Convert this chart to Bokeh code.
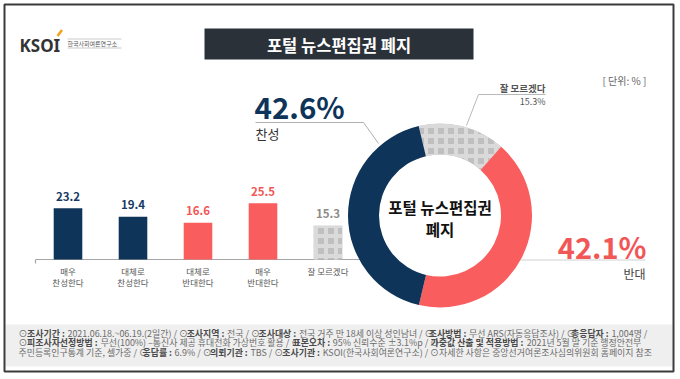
import math
from bokeh.plotting import figure
from bokeh.models import Range1d, ColumnDataSource
from bokeh.core.properties import value
from bokeh.embed import file_html
from bokeh.resources import INLINE

FONT = "Noto Sans CJK KR"

# ---------------- data ----------------
CAT_LINE1 = ["매우", "대체로", "대체로", "매우", "잘 모르겠다"]
CAT_LINE2 = ["찬성한다", "찬성한다", "반대한다", "반대한다", ""]
BAR_VALUES = [23.2, 19.4, 16.6, 25.5, 15.3]
PIE_LABELS = ["잘 모르겠다", "반대", "찬성"]
PIE_VALUES = [15.3, 42.1, 42.6]
TITLE = "포털 뉴스편집권 폐지"
CENTER_LINES = ["포털 뉴스편집권", "폐지"]
UNIT = "[ 단위: % ]"
# footer lines, bold parts between ** **
FOOTER = [
    "⊙**조사기간 :** 2021.06.18.~06.19.(2일간)  / ⊙**조사지역 :** 전국 / ⊙**조사대상 :** 전국 거주 만 18세 이상 성인남녀 / ⊙**조사방법 :** 무선 ARS(자동응답조사) / ⊙**총응답자 :** 1,004명 /",
    "⊙**피조사자선정방법 :** 무선(100%) –통신사 제공 휴대전화 가상번호 활용 / ⊙**표본오차 :** 95% 신뢰수준 ±3.1%p / ⊙**가중값 산출 및 적용방법 :** 2021년 5월 말 기준 행정안전부",
    "주민등록인구통계 기준, 셀가중 / ⊙**응답률 :** 6.9% / ⊙**의뢰기관 :** TBS / ⊙**조사기관 :** KSOI(한국사회여론연구소) / ⊙자세한 사항은 중앙선거여론조사심의위원회 홈페이지 참조",
]
FOOT_Y = [332.5, 342, 351.5]

# ---------------- style ----------------
NAVY = "#0f3459"
RED = "#fa5d5d"
GRAY = "#bfbfbf"
BAR_COLORS = [NAVY, NAVY, RED, RED, GRAY]
LABEL_COLORS = ["#173a63", "#173a63", "#f25757", "#f25757", "#8c8c8c"]
BAR_HATCH = ["blank", "blank", "blank", "blank", "cross"]
PIE_COLORS = [GRAY, RED, NAVY]
PIE_HATCH = ["cross", "blank", "blank"]

W, H = 680, 379
OX, OY = 0, 0
REF_H = 379


def Y(r):
    return REF_H - r


p = figure(width=W, height=H, x_range=Range1d(OX, OX + W),
           y_range=Range1d(Y(OY + H), Y(OY)),
           output_backend="svg", toolbar_location=None,
           x_axis_location=None, y_axis_location=None, min_border=0)
p.grid.visible = False
p.outline_line_color = None
p.background_fill_color = "white"
p.border_fill_color = "white"

# bar chart scales
BAR_X0, BAR_DX = 67.5, 65.0
BASE_Y, PPU = 259.0, 2.21
p.extra_x_ranges = {"idx": Range1d((OX - BAR_X0) / BAR_DX, (OX + W - BAR_X0) / BAR_DX)}
p.extra_y_ranges = {"pct": Range1d((Y(OY + H) - Y(BASE_Y)) / PPU, (Y(OY) - Y(BASE_Y)) / PPU)}

# footer band
p.quad(left=5, right=672, top=Y(324), bottom=Y(366), fill_color="#efefef", line_color=None)

# frame
p.quad(left=4, right=673, top=Y(4), bottom=Y(371), fill_color=None,
       line_color="#3b3b3b", line_width=2)

# logo
p.text(x=[19], y=[Y(45)], text=["KSOI"], text_font=value("Noto Sans"), text_font_style="bold",
       text_font_size="17px", text_color="#333333", text_align="left", text_baseline="middle")
p.line(x=[57, 61.5], y=[Y(35.5), Y(29.5)], line_color="#f5a11c", line_width=2.5)
p.line(x=[67, 121], y=[Y(38.5), Y(38.5)], line_color="#bdbdbd", line_width=0.8)
p.line(x=[67, 121], y=[Y(47.5), Y(47.5)], line_color="#bdbdbd", line_width=0.8)
p.text(x=[67], y=[Y(43)], text=["한국사회여론연구소"], text_font=value(FONT),
       text_font_size="6px", text_color="#555555", text_align="left", text_baseline="middle")

# title box
p.quad(left=204, right=473, top=Y(28), bottom=Y(59), fill_color="#2b3139", line_color=None)
p.text(x=[338.5], y=[Y(44)], text=[TITLE], text_font=value(FONT), text_font_style="bold",
       text_font_size="16.5px", text_color="white", text_align="center", text_baseline="middle")

# unit
p.text(x=[602], y=[Y(80)], text=[UNIT], text_font=value(FONT), text_font_size="10px",
       text_color="#666666", text_align="left", text_baseline="middle")

# ---------------- bars ----------------
idx = list(range(len(BAR_VALUES)))
p.line(x=[-0.5, 4.5], y=[0, 0], x_range_name="idx", y_range_name="pct",
       line_color="#a6a6a6", line_width=1.2)
p.line(x=[-0.5, -0.5], y=[0, -4 / PPU], x_range_name="idx", y_range_name="pct",
       line_color="#a6a6a6", line_width=1.2)

bsrc = ColumnDataSource(dict(x=idx, top=BAR_VALUES, color=BAR_COLORS, hatch=BAR_HATCH,
                             lab=[f"{v:.1f}" for v in BAR_VALUES],
                             ly=[v + 12 / PPU for v in BAR_VALUES], lc=LABEL_COLORS,
                             c1=CAT_LINE1, c2=CAT_LINE2,
                             y1=[-11 / PPU] * 5, y2=[-22 / PPU] * 5))
p.vbar(x="x", top="top", bottom=0, width=0.44, source=bsrc, x_range_name="idx",
       y_range_name="pct", fill_color="color", line_color=None,
       hatch_pattern="hatch", hatch_color="#dadada", hatch_scale=10, hatch_weight=4)
p.text(x="x", y="ly", text="lab", source=bsrc, x_range_name="idx", y_range_name="pct",
       text_font=value(FONT), text_font_style="bold", text_font_size="11.5px",
       text_color="lc", text_align="center", text_baseline="middle")
p.text(x="x", y="y1", text="c1", source=bsrc, x_range_name="idx", y_range_name="pct",
       text_font=value(FONT), text_font_size="8.5px", text_color="#555555",
       text_align="center", text_baseline="middle")
p.text(x="x", y="y2", text="c2", source=bsrc, x_range_name="idx", y_range_name="pct",
       text_font=value(FONT), text_font_size="8.5px", text_color="#555555",
       text_align="center", text_baseline="middle")

# ---------------- leader lines & big labels ----------------
p.line(x=[255, 363, 378], y=[Y(122), Y(122), Y(143)], line_color="#b0b0b0", line_width=1)
p.line(x=[520, 645], y=[Y(259.5), Y(259.5)], line_color="#d0d0d0", line_width=1)
p.line(x=[545, 478, 466], y=[Y(94), Y(94), Y(125)], line_color="#b8b8b8", line_width=1)

total = sum(PIE_VALUES)
pct_of = dict(zip(PIE_LABELS, PIE_VALUES))
p.text(x=[254], y=[Y(105)], text=[f"{pct_of['찬성']:.1f}%"], text_font=value(FONT),
       text_font_style="bold", text_font_size="29.5px", text_color=NAVY,
       text_align="left", text_baseline="middle")
p.text(x=[255], y=[Y(133)], text=["찬성"], text_font=value(FONT), text_font_size="13px",
       text_color="#333333", text_align="left", text_baseline="middle")
p.text(x=[646], y=[Y(245)], text=[f"{pct_of['반대']:.1f}%"], text_font=value(FONT),
       text_font_style="bold", text_font_size="29px", text_color="#f25757",
       text_align="right", text_baseline="middle")
p.text(x=[645], y=[Y(273)], text=["반대"], text_font=value(FONT), text_font_size="12px",
       text_color="#444444", text_align="right", text_baseline="middle")
p.text(x=[545], y=[Y(87)], text=["잘 모르겠다"], text_font=value(FONT), text_font_style="bold",
       text_font_size="9.5px", text_color="#555555", text_align="right", text_baseline="middle")
p.text(x=[545], y=[Y(101)], text=[f"{pct_of['잘 모르겠다']:.1f}%"], text_font=value(FONT),
       text_font_size="9px", text_color="#555555", text_align="right", text_baseline="middle")

# ---------------- donut ----------------
CX, CY = 439.5, Y(215)
start = math.radians(103.4)
sa, ea = [], []
for v in PIE_VALUES:
    end = start - v / total * 2 * math.pi
    sa.append(end)
    ea.append(start)
    start = end
dsrc = ColumnDataSource(dict(x=[CX] * 3, y=[CY] * 3, sa=sa, ea=ea, color=PIE_COLORS, hatch=PIE_HATCH))
p.annular_wedge(x="x", y="y", inner_radius=61, outer_radius=92, start_angle="sa", end_angle="ea",
                source=dsrc, fill_color="color", line_color=None,
                hatch_pattern="hatch", hatch_color="#dadada", hatch_scale=10, hatch_weight=4)
p.text(x=[CX, CX], y=[Y(206.5), Y(228)], text=CENTER_LINES, text_font=value(FONT),
       text_font_style="bold", text_font_size="15.5px", text_color="#111111",
       text_align="center", text_baseline="middle")

# ---------------- footer ----------------
def cw(ch, bold):
    if "\uac00" <= ch <= "\ud7a3":
        return 0.93 if bold else 0.88
    if ch == "⊙":
        return 0.85
    if ch == " ":
        return 0.224
    if ch.isdigit():
        return 0.57 if bold else 0.555
    if ch in ".,:":
        return 0.25
    if ch in "()":
        return 0.3
    if ch == "/":
        return 0.36
    if ch in "~±–":
        return 0.55
    if ch == "%":
        return 0.85
    if ch.isupper():
        return 0.6
    return 0.5


def runs(line):
    parts = line.split("**")
    return [(t, i % 2 == 1) for i, t in enumerate(parts) if t]


def em(t, b):
    return sum(cw(c, b) for c in t)


GAP = 1.0
line_em = [sum(em(t, b) for t, b in runs(l)) for l in FOOTER]
line_gaps = [GAP * len(runs(l)) for l in FOOTER]
FS = min((629.0 - line_gaps[0]) / line_em[0],
         min((636.0 - g) / e for g, e in zip(line_gaps, line_em)))
reg = dict(x=[], y=[], t=[])
bld = dict(x=[], y=[], t=[])
for line, fy in zip(FOOTER, FOOT_Y):
    xpos = 18.0
    for t, b in runs(line):
        lead = len(t) - len(t.lstrip(" "))
        xs = xpos + em(t[:lead], b) * FS
        d = bld if b else reg
        if t.strip():
            d["x"].append(xs)
            d["y"].append(Y(fy))
            d["t"].append(t.strip())
        xpos += em(t, b) * FS + GAP

p.text(x="x", y="y", text="t", source=ColumnDataSource(reg), text_font=value(FONT),
       text_font_size=f"{FS:.2f}px", text_color="#6b6b6b", text_align="left", text_baseline="middle")
p.text(x="x", y="y", text="t", source=ColumnDataSource(bld), text_font=value(FONT),
       text_font_style="bold", text_font_size=f"{FS:.2f}px", text_color="#4a4a4a",
       text_align="left", text_baseline="middle")

open("out.html", "w").write(file_html(p, INLINE))
